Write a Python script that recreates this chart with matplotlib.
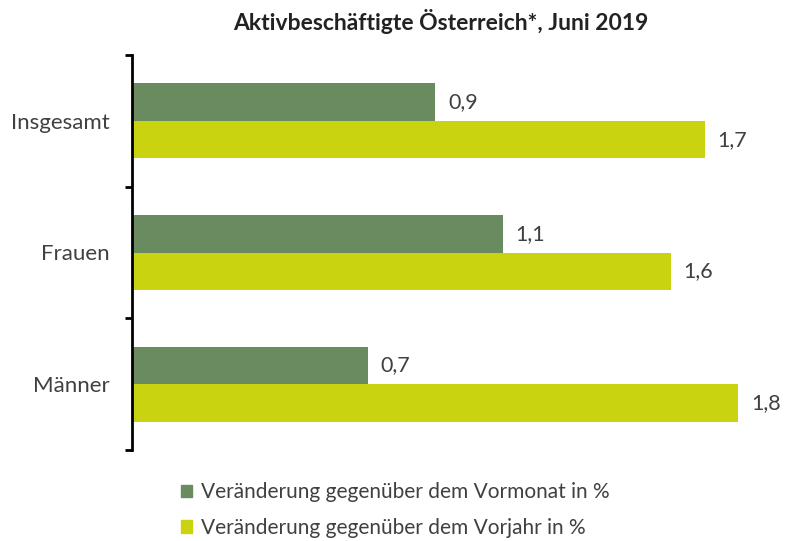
import numpy as np
import matplotlib.pyplot as plt
from matplotlib.patches import Patch

plt.rcParams['font.family'] = ['Lato', 'DejaVu Sans']

# Daten
kategorien = ['Insgesamt', 'Frauen', 'Männer']
vormonat = [0.9, 1.1, 0.7]
vorjahr = [1.7, 1.6, 1.8]
serien = ['Veränderung gegenüber dem Vormonat in %',
          'Veränderung gegenüber dem Vorjahr in %']
titel = 'Aktivbeschäftigte Österreich*, Juni 2019'

farbe_monat = '#698b5f'
farbe_jahr = '#c9d30f'
textfarbe = '#404040'

fig = plt.figure(figsize=(7.87, 5.41), dpi=100)
ax = fig.add_axes([132 / 787, 91 / 541, 640 / 787, 395 / 541])

mitte = np.array([2.5, 1.5, 0.5])
h = 0.285
ax.barh(mitte + h / 2, vormonat, height=h, color=farbe_monat)
ax.barh(mitte - h / 2, vorjahr, height=h, color=farbe_jahr)

# Wertebeschriftungen mit Dezimalkomma
for y, v in zip(mitte + h / 2, vormonat):
    ax.text(v + 0.038, y, f'{v:.1f}'.replace('.', ','), va='center', ha='left',
            fontsize=15.5, color=textfarbe)
for y, v in zip(mitte - h / 2, vorjahr):
    ax.text(v + 0.038, y, f'{v:.1f}'.replace('.', ','), va='center', ha='left',
            fontsize=15.5, color=textfarbe)

ax.set_xlim(0, 1.9)
ax.set_ylim(0, 3)
ax.set_xticks([])
ax.set_yticks([0, 1, 2, 3])
ax.set_yticklabels([])
ax.set_yticks(mitte, minor=True)
ax.set_yticklabels(kategorien, minor=True, fontsize=16, color=textfarbe)
ax.tick_params(axis='y', which='major', direction='out', length=5, width=2)
ax.tick_params(axis='y', which='minor', length=0, pad=16)
for s in ['top', 'right', 'bottom']:
    ax.spines[s].set_visible(False)
ax.spines['left'].set_linewidth(2)

fig.text(441 / 787, 519 / 541, titel, ha='center', va='center',
         fontsize=16.5, fontweight='bold', color='#222222')

griffe = [Patch(color=farbe_monat), Patch(color=farbe_jahr)]
fig.legend(griffe, serien, loc='center', bbox_to_anchor=(395 / 787, 31 / 541),
           frameon=False, fontsize=15, handlelength=0.55, handleheight=0.55,
           handletextpad=0.4, labelspacing=0.75, labelcolor=textfarbe)

fig.savefig('out.png', dpi=100)
